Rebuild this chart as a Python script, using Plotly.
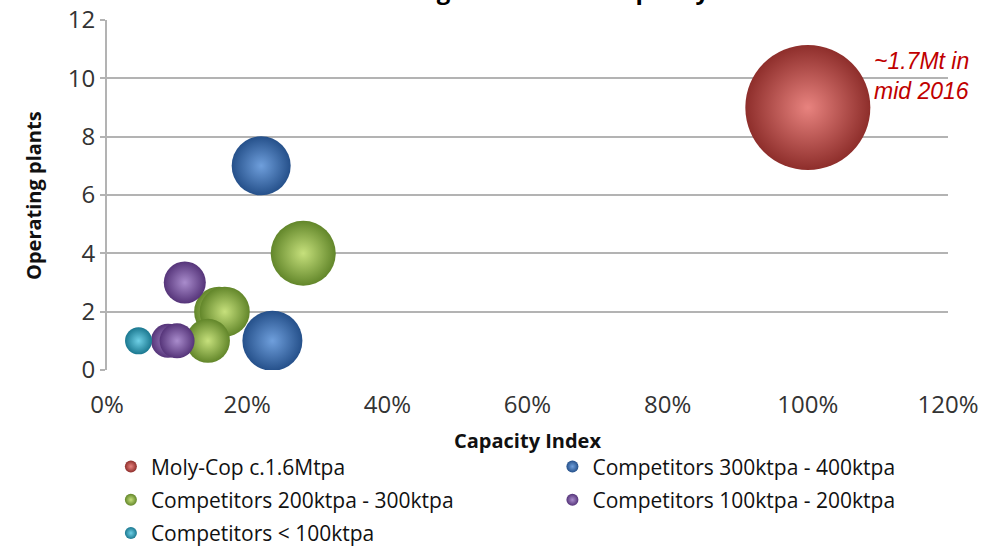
import plotly.graph_objects as go

# Capacity index (share of Moly-Cop capacity), operating plants, bubble diameter
series_names = [
    "Moly-Cop c.1.6Mtpa",
    "Competitors 300ktpa - 400ktpa",
    "Competitors 200ktpa - 300ktpa",
    "Competitors 100ktpa - 200ktpa",
    "Competitors < 100ktpa",
]
molycop_x = [1.00]
molycop_y = [9]
molycop_size = [125]

c300_x = [0.22, 0.236]
c300_y = [7, 1]
c300_size = [59, 60]

c200_x = [0.28, 0.16, 0.168, 0.144]
c200_y = [4, 2, 2, 1]
c200_size = [65, 50, 50, 44]

c100_x = [0.111, 0.087, 0.10]
c100_y = [3, 1, 1]
c100_size = [42, 34, 35]

c_small_x = [0.045]
c_small_y = [1]
c_small_size = [27]

x_ticks = [0, 0.2, 0.4, 0.6, 0.8, 1.0, 1.2]
y_ticks = [0, 2, 4, 6, 8, 10, 12]

# sphere shading: light centre fading to a dark rim
centre_colors = ["#e8837f", "#6f9fdc", "#c6e07c", "#a98ccc", "#6fd0e6"]
rim_colors = ["#8e2e2b", "#25508a", "#62862a", "#553479", "#1b7890"]
legend_ids = ["legend", "legend2", "legend", "legend2", "legend"]

series = [
    (molycop_x, molycop_y, molycop_size),
    (c300_x, c300_y, c300_size),
    (c200_x, c200_y, c200_size),
    (c100_x, c100_y, c100_size),
    (c_small_x, c_small_y, c_small_size),
]

font_main = "'Open Sans', sans-serif"

fig = go.Figure()
for i, (name, (xs, ys, ss)) in enumerate(zip(series_names, series)):
    fig.add_trace(go.Scatter(
        x=xs, y=ys, mode="markers", name=name,
        legend=legend_ids[i], legendgroup=f"g{i}",
        marker=dict(
            size=ss, sizemode="diameter", color=rim_colors[i], opacity=1,
            gradient=dict(type="radial", color=centre_colors[i]),
            line=dict(width=0),
        ),
    ))

fig.add_annotation(
    x=1.0, y=9, xref="x", yref="y", text="<i>~1.7Mt in<br>mid 2016</i>",
    showarrow=False, xanchor="left", yanchor="bottom", xshift=64, yshift=2,
    align="left", font=dict(family="Liberation Sans, Arial", size=23, color="#c00000"),
)

# Chart title, sitting on the very top edge of the canvas
fig.add_annotation(
    x=0.5, y=1.0, xref="paper", yref="paper", yshift=12,
    text="<b>Grinding Media Plant Capacity</b>", showarrow=False,
    yanchor="bottom", font=dict(family=font_main, size=24, color="black"),
)

# Axis titles
fig.add_annotation(
    x=-0.088, y=0.5, xref="paper", yref="paper", textangle=-90,
    xanchor="center", yanchor="middle",
    text="<b>Operating plants</b>", showarrow=False,
    font=dict(family=font_main, size=20, color="#111"),
)
fig.add_annotation(
    x=0.5, y=-0.2, xref="paper", yref="paper",
    xanchor="center", yanchor="middle",
    text="<b>Capacity Index</b>", showarrow=False,
    font=dict(family=font_main, size=20, color="#111"),
)

legend_common = dict(
    orientation="v", xref="container", yref="container",
    xanchor="left", yanchor="top", itemsizing="constant", itemwidth=30,
    font=dict(family=font_main, size=21, color="#111"),
    tracegroupgap=3, bgcolor="rgba(0,0,0,0)",
)

fig.update_layout(
    width=990, height=549,
    margin=dict(l=107, r=42, t=20, b=179, autoexpand=False),
    paper_bgcolor="white", plot_bgcolor="white",
    font=dict(family=font_main, size=20, color="#222"),
    showlegend=True,
    legend=dict(x=0.112, y=0.187, **legend_common),
    legend2=dict(x=0.558, y=0.187, **legend_common),
    xaxis=dict(
        range=[0, 1.2], tickvals=x_ticks, tickformat=".0%",
        showgrid=False, zeroline=False, showline=False, ticks="",
        ticklabelstandoff=18,
        tickfont=dict(size=24, color="#333"), automargin=False,
    ),
    yaxis=dict(
        range=[0, 12], tickvals=y_ticks,
        showgrid=True, gridcolor="#b3b3b3", gridwidth=2,
        zeroline=False, showline=True, linecolor="#b3b3b3", linewidth=2,
        ticks="outside", ticklen=5, tickcolor="#b3b3b3", tickwidth=2,
        tickfont=dict(size=24, color="#333"), automargin=False,
    ),
)

fig.write_html("out.html")
